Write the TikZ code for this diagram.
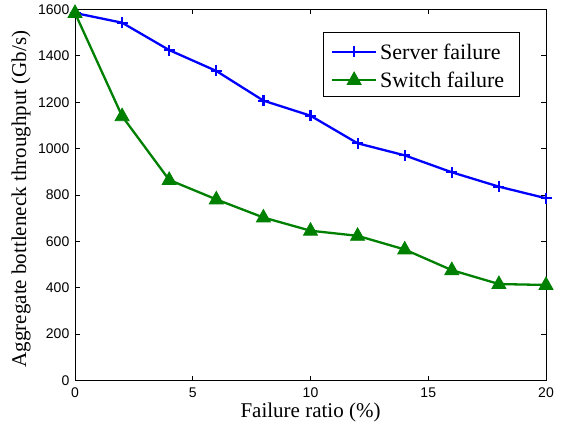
\documentclass[tikz,border=0pt]{standalone}
\usepackage{fontspec}
\setmainfont{Liberation Serif}
\newfontfamily\ticksfont{Liberation Sans}
\definecolor{mblue}{rgb}{0,0,1}
\definecolor{mgreen}{rgb}{0,0.5,0}
\tikzset{
  x=1pt, y=1pt,
  ticklab/.style={font=\ticksfont\fontsize{14}{14}\selectfont, inner sep=0pt},
  axlab/.style={font=\fontsize{21}{21}\selectfont, inner sep=0pt},
  leglab/.style={font=\fontsize{22}{22}\selectfont, inner sep=0pt, anchor=west},
  serverline/.style={draw=mblue, line width=2.3pt, line join=round},
  switchline/.style={draw=mgreen, line width=2.3pt, line join=round},
  plusmark/.pic={\draw[mblue, line width=2.2pt] (-5.5pt,0)--(5.5pt,0) (0,-5.5pt)--(0,5.5pt);},
  trimark/.pic={\fill[mgreen, draw=mgreen, line width=0.8pt, line join=miter] (-7pt,-4.5pt)--(7pt,-4.5pt)--(0,8pt)--cycle;},
  axisline/.style={draw=black, line width=1pt},
  tickline/.style={draw=black, line width=0.8pt}
}
\begin{document}
\begin{tikzpicture}
\useasboundingbox (0,0) rectangle (565,424);
\fill[white] (0,0) rectangle (565,424);
\begin{scope}[shift={(75pt,43.5pt)}, x=23.55pt, y=0.231875pt]
  % axes box
  \coordinate (ll) at (0,0);
  \coordinate (ur) at (20,1600);
  % ticks
  \foreach \t in {0,5,10,15,20} {
    \draw[tickline] (\t,0) -- ++(0,4.7pt);
    \draw[tickline] (\t,1600) -- ++(0,-4.7pt);
    \node[ticklab] (xt\t) at ([yshift=-12pt]\t,0) {\t};
  }
  \foreach \v in {0,200,...,1600} {
    \draw[tickline] (0,\v) -- ++(4.7pt,0);
    \draw[tickline] (20,\v) -- ++(-4.7pt,0);
    \node[ticklab, anchor=east] (yt\v) at ([xshift=-5.5pt]0,\v) {\v};
  }
  \draw[axisline] (ll) rectangle (ur);
  % data: server failure
  \coordinate (s0) at (0,1585);
  \coordinate (s2) at (2,1543);
  \coordinate (s4) at (4,1425);
  \coordinate (s6) at (6,1335);
  \coordinate (s8) at (8,1207);
  \coordinate (s10) at (10,1142);
  \coordinate (s12) at (12,1023);
  \coordinate (s14) at (14,971);
  \coordinate (s16) at (16,898);
  \coordinate (s18) at (18,836);
  \coordinate (s20) at (20,786);
  % data: switch failure
  \coordinate (w0) at (0,1585);
  \coordinate (w2) at (2,1140);
  \coordinate (w4) at (4,865);
  \coordinate (w6) at (6,781);
  \coordinate (w8) at (8,703);
  \coordinate (w10) at (10,646);
  \coordinate (w12) at (12,624);
  \coordinate (w14) at (14,565);
  \coordinate (w16) at (16,476);
  \coordinate (w18) at (18,416);
  \coordinate (w20) at (20,412);
  \draw[serverline] (s0)--(s2)--(s4)--(s6)--(s8)--(s10)--(s12)--(s14)--(s16)--(s18)--(s20);
  \foreach \i in {0,2,...,20} { \pic at (s\i) {plusmark}; }
  \draw[switchline] (w0)--(w2)--(w4)--(w6)--(w8)--(w10)--(w12)--(w14)--(w16)--(w18)--(w20);
  \foreach \i in {0,2,...,20} { \pic at (w\i) {trimark}; }
\end{scope}
% axis labels
\node[axlab] (xlab) at (310.5,12) {Failure ratio (\%)};
\node[axlab, rotate=90] (ylab) at (21,225) {Aggregate bottleneck throughput (Gb/s)};
% legend
\node[draw=black, line width=1pt, fill=white, minimum width=195.7pt, minimum height=64.4pt, inner sep=0pt] (legbox) at (421.15,359.5) {};
\coordinate (la1) at (332.3,372.3);
\coordinate (lb1) at (376,372.3);
\coordinate (la2) at (332.3,344);
\coordinate (lb2) at (376,344);
\draw[serverline] (la1) -- (lb1);
\pic at (354.15,372.3) {plusmark};
\draw[switchline] (la2) -- (lb2);
\pic at (354.15,344) {trimark};
\node[leglab] (l1) at (380,372.3) {Server failure};
\node[leglab] (l2) at (380,344) {Switch failure};
\end{tikzpicture}
\end{document}
